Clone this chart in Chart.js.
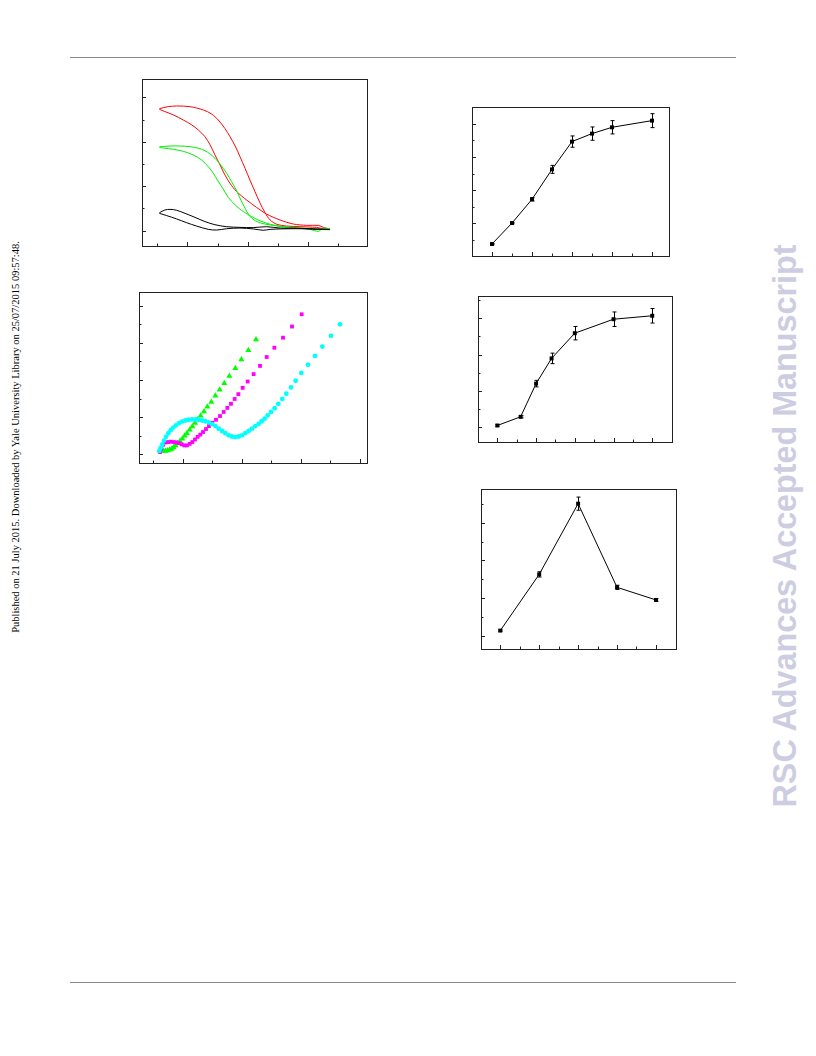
<!DOCTYPE html>
<html>
<head>
<meta charset="utf-8">
<script src="https://cdn.jsdelivr.net/npm/chart.js@4"></script>
<style>
body { margin: 0; width: 816px; height: 1056px; position: relative; background: #fff; overflow: hidden; }
.rule { position: absolute; left: 70px; width: 666px; height: 1px; background: #8a8a8a; }
canvas { position: absolute; }
.side { position: absolute; white-space: nowrap; transform: translate(-50%, -50%) rotate(-90deg); }
</style>
</head>
<body>
<div class="rule" style="top:57px"></div>
<div class="rule" style="top:982px"></div>
<div class="side" style="left:15px;top:437px;font:10.5px 'Liberation Serif';color:#000">Published on 21 July 2015. Downloaded by Yale University Library on 25/07/2015 09:57:48.</div>
<div class="side" style="left:785px;top:526px;font:bold 32.3px 'Liberation Sans';color:#cdcde2">RSC Advances Accepted Manuscript</div>
<canvas id="c1"></canvas>
<canvas id="c2"></canvas>
<canvas id="c3"></canvas>
<canvas id="c4"></canvas>
<canvas id="c5"></canvas>
<script>
// ---- panel 1: three closed loops ----
const redX = [-0.093,-0.064,-0.036,0.008,0.053,0.080,0.102,0.124,0.141,0.158,0.174,0.191,0.207,0.224,0.240,0.257,0.274,0.296,0.329,0.373,0.428,0.450,0.472,0.450,0.434,0.395,0.351,0.307,0.262,0.229,0.196,0.163,0.141,0.124,0.108,0.091,0.075,0.058,0.036,0.014,-0.014,-0.047,-0.075,-0.093];
const redY = [5.49,5.58,5.61,5.58,5.43,5.25,4.98,4.60,4.23,3.81,3.33,2.80,2.28,1.75,1.26,0.81,0.48,0.29,0.21,0.18,0.15,0.09,0.06,0.15,0.24,0.24,0.30,0.48,0.75,1.05,1.38,1.76,2.13,2.51,2.96,3.41,3.86,4.23,4.53,4.76,4.98,5.21,5.36,5.46];
const greenX = [-0.093,-0.058,-0.025,0.008,0.036,0.058,0.075,0.091,0.108,0.130,0.146,0.163,0.177,0.191,0.205,0.224,0.246,0.274,0.318,0.373,0.428,0.472,0.450,0.434,0.406,0.362,0.318,0.274,0.240,0.213,0.185,0.158,0.135,0.117,0.099,0.086,0.069,0.047,0.019,-0.014,-0.047,-0.080,-0.093];
const greenY = [3.77,3.81,3.81,3.78,3.71,3.60,3.45,3.26,3.00,2.58,2.21,1.80,1.38,1.01,0.68,0.45,0.33,0.26,0.18,0.12,0.06,0.08,0.12,-0.03,0.06,0.12,0.18,0.29,0.45,0.63,0.86,1.16,1.50,1.91,2.28,2.58,2.88,3.18,3.41,3.57,3.66,3.72,3.74];
const blackX = [-0.093,-0.075,-0.058,-0.036,-0.008,0.025,0.058,0.091,0.130,0.174,0.218,0.262,0.307,0.362,0.417,0.472,0.428,0.373,0.307,0.274,0.251,0.218,0.174,0.130,0.097,0.069,0.030,-0.003,-0.036,-0.069,-0.093];
const blackY = [0.81,0.93,0.96,0.92,0.78,0.60,0.41,0.27,0.18,0.15,0.14,0.18,0.12,0.11,0.09,0.05,0.06,0.09,0.08,0.06,0.02,0.08,0.12,0.09,0.03,0.06,0.21,0.36,0.53,0.68,0.78];
const p1XTicks = [-0.1,0,0.1,0.2,0.3,0.4,0.5];
const p1XMajor = [0,0.2,0.4];
const p1YTicks = [0,1,2,3,4,5,6];
const p1YMajor = [0,2,4,6];

// ---- panel 2: three scatter series ----
const triX = [0.610,0.644,0.678,0.712,0.746,0.780,0.814,0.847,0.881,0.915,0.955,0.994,1.034,1.073,1.119,1.164,1.209,1.254,1.305,1.362,1.418,1.486,1.554,1.627,1.706,1.791,1.893,1.994,2.113,2.243];
const triY = [0.10,0.09,0.09,0.09,0.10,0.12,0.14,0.19,0.24,0.30,0.36,0.42,0.50,0.57,0.66,0.75,0.84,0.94,1.04,1.15,1.28,1.41,1.58,1.74,1.91,2.11,2.32,2.55,2.80,3.09];
const sqX = [0.616,0.638,0.672,0.712,0.757,0.802,0.847,0.893,0.938,0.983,1.028,1.073,1.119,1.164,1.209,1.254,1.299,1.345,1.395,1.446,1.503,1.565,1.633,1.695,1.757,1.819,1.881,1.944,2.017,2.102,2.203,2.311,2.424,2.554,2.701,2.853,3.017];
const sqY = [0.06,0.15,0.26,0.32,0.33,0.34,0.33,0.32,0.30,0.27,0.24,0.24,0.28,0.33,0.40,0.47,0.53,0.60,0.68,0.76,0.85,0.93,1.03,1.14,1.25,1.36,1.49,1.62,1.79,1.96,2.16,2.38,2.62,2.87,3.14,3.44,3.77];
const dotX = [0.605,0.627,0.655,0.684,0.718,0.757,0.797,0.842,0.887,0.938,0.989,1.045,1.102,1.158,1.215,1.271,1.328,1.384,1.441,1.497,1.554,1.610,1.667,1.723,1.780,1.836,1.893,1.949,2.006,2.062,2.119,2.175,2.232,2.288,2.339,2.390,2.441,2.497,2.559,2.621,2.689,2.757,2.836,2.915,3.011,3.124,3.243,3.367,3.514,3.667];
const dotY = [0.09,0.17,0.27,0.37,0.47,0.57,0.65,0.72,0.78,0.84,0.88,0.91,0.93,0.94,0.94,0.93,0.91,0.89,0.86,0.81,0.76,0.69,0.63,0.57,0.51,0.48,0.46,0.48,0.51,0.57,0.63,0.69,0.76,0.82,0.89,0.96,1.05,1.14,1.24,1.36,1.49,1.63,1.80,1.98,2.19,2.41,2.65,2.90,3.19,3.50];
const p2XTicks = [0.5,1,1.5,2,2.5,3,3.5,4];
const p2XMajor = [1,2,3,4];
const p2YTicks = [0,0.5,1,1.5,2,2.5,3,3.5,4];
const p2YMajor = [0,1,2,3,4];

// ---- panel 3 ----
const p3X = [0,1,2,3,4,5,6,8];
const p3Y = [-0.24,1.02,2.45,4.25,5.92,6.40,6.78,7.18];
const p3Err = [0.04,0.04,0.10,0.24,0.34,0.40,0.40,0.42];
const p3XTicks = [0,1,2,3,4,5,6,7,8];
const p3XMajor = [0,2,4,6,8];
const p3YTicks = [0,1,2,3,4,5,6,7];
const p3YMajor = [1,3,5,7];

// ---- panel 4 ----
const p4X = [0,1.2,2,2.8,4,6,8];
const p4Y = [0.09,0.57,2.40,3.79,5.18,5.95,6.14];
const p4Err = [0.05,0.06,0.18,0.29,0.37,0.40,0.40];
const p4XTicks = [0,1,2,3,4,5,6,7,8];
const p4XMajor = [0,2,4,6,8];
const p4YTicks = [0,1,2,3,4,5,6,7];
const p4YMajor = [0,2,4,6];

// ---- panel 5 ----
const p5X = [0,2,4,6,8];
const p5Y = [0.27,3.26,7.02,2.57,1.90];
const p5Err = [0.04,0.14,0.35,0.11,0.07];
const p5XTicks = [0,1,2,3,4,5,6,7,8];
const p5XMajor = [0,2,4,6,8];
const p5YTicks = [0,1,2,3,4,5,6,7];
const p5YMajor = [0,2,4,6];

Chart.defaults.animation = false;

const pts = (xs, ys) => xs.map((v, i) => ({ x: v, y: ys[i] }));
const isMajor = (list, v) => list.some(m => Math.abs(m - v) < 1e-9);

// box round the plot area, short ticks pointing inward on bottom and left
const frameTicks = {
    id: 'frameTicks',
    afterDatasetsDraw(chart, args, o) {
        const { ctx, chartArea: a, scales: { x, y } } = chart;
        ctx.save();
        ctx.strokeStyle = '#222';
        ctx.lineWidth = 1;
        ctx.strokeRect(Math.round(a.left) + 0.5, Math.round(a.top) + 0.5, Math.round(a.right - a.left), Math.round(a.bottom - a.top));
        ctx.beginPath();
        o.xTicks.forEach(v => {
            const px = Math.round(x.getPixelForValue(v)) + 0.5;
            const len = isMajor(o.xMajor, v) ? 4 : 2.5;
            ctx.moveTo(px, a.bottom);
            ctx.lineTo(px, a.bottom - len);
        });
        o.yTicks.forEach(v => {
            const py = Math.round(y.getPixelForValue(v)) + 0.5;
            const len = isMajor(o.yMajor, v) ? 4 : 2.5;
            ctx.moveTo(a.left, py);
            ctx.lineTo(a.left + len, py);
        });
        ctx.stroke();
        ctx.restore();
    }
};

const errorBars = {
    id: 'errorBars',
    afterDatasetsDraw(chart, args, o) {
        if (!o.err) return;
        const { ctx, scales: { x, y } } = chart;
        const data = chart.data.datasets[0].data;
        ctx.save();
        ctx.strokeStyle = '#000';
        ctx.lineWidth = 1;
        ctx.beginPath();
        data.forEach((p, i) => {
            const px = Math.round(x.getPixelForValue(p.x)) + 0.5;
            const top = y.getPixelForValue(p.y + o.err[i]);
            const bot = y.getPixelForValue(p.y - o.err[i]);
            ctx.moveTo(px, top); ctx.lineTo(px, bot);
            ctx.moveTo(px - 2, top); ctx.lineTo(px + 2, top);
            ctx.moveTo(px - 2, bot); ctx.lineTo(px + 2, bot);
        });
        ctx.stroke();
        ctx.restore();
    }
};

function makeChart(id, frame, datasets, range, ticks, err) {
    const pad = 4;
    const canvas = document.getElementById(id);
    canvas.width = frame.w + pad * 2;
    canvas.height = frame.h + pad * 2;
    canvas.style.left = (frame.left - pad) + 'px';
    canvas.style.top = (frame.top - pad) + 'px';
    return new Chart(canvas, {
        type: 'scatter',
        data: { datasets },
        options: {
            responsive: false,
            layout: { padding: pad },
            scales: {
                x: { type: 'linear', display: false, min: range.x[0], max: range.x[1] },
                y: { type: 'linear', display: false, min: range.y[0], max: range.y[1] }
            },
            plugins: {
                legend: { display: false },
                tooltip: { enabled: false },
                frameTicks: ticks,
                errorBars: { err }
            }
        },
        plugins: [frameTicks, errorBars]
    });
}

function loop(xs, ys, color) {
    return { data: pts(xs, ys), showLine: true, borderColor: color, borderWidth: 1, pointRadius: 0, tension: 0.3 };
}

function markers(xs, ys, color, style, r) {
    return { data: pts(xs, ys), backgroundColor: color, borderColor: color, pointStyle: style, pointRadius: r, borderWidth: 0 };
}

function errLine(xs, ys) {
    return { data: pts(xs, ys), showLine: true, borderColor: '#000', borderWidth: 1, backgroundColor: '#000',
             pointStyle: 'rect', pointRadius: 2.8, pointBorderWidth: 0 };
}

makeChart('c1', { left: 142, top: 79, w: 225, h: 167 },
    [loop(blackX, blackY, '#000'), loop(greenX, greenY, '#00ee00'), loop(redX, redY, '#ff0000')],
    { x: [-0.1507, 0.595], y: [-0.688, 6.824] },
    { xTicks: p1XTicks, xMajor: p1XMajor, yTicks: p1YTicks, yMajor: p1YMajor });

makeChart('c2', { left: 139, top: 292, w: 228, h: 171 },
    [markers(dotX, dotY, '#00ffff', 'circle', 2.4), markers(sqX, sqY, '#ff00ff', 'rect', 2.7), markers(triX, triY, '#00ff00', 'triangle', 3.5)],
    { x: [0.26, 4.124], y: [-0.234, 4.37] },
    { xTicks: p2XTicks, xMajor: p2XMajor, yTicks: p2YTicks, yMajor: p2YMajor });

makeChart('c3', { left: 472, top: 107, w: 197, h: 149 },
    [errLine(p3X, p3Y)],
    { x: [-1.0, 8.85], y: [-0.961, 8.0] },
    { xTicks: p3XTicks, xMajor: p3XMajor, yTicks: p3YTicks, yMajor: p3YMajor }, p3Err);

makeChart('c4', { left: 478, top: 296, w: 194, h: 146 },
    [errLine(p4X, p4Y)],
    { x: [-1.0, 9.02], y: [-0.82, 7.23] },
    { xTicks: p4XTicks, xMajor: p4XMajor, yTicks: p4YTicks, yMajor: p4YMajor }, p4Err);

makeChart('c5', { left: 481, top: 489, w: 195, h: 160 },
    [errLine(p5X, p5Y)],
    { x: [-0.99, 9.03], y: [-0.709, 7.8] },
    { xTicks: p5XTicks, xMajor: p5XMajor, yTicks: p5YTicks, yMajor: p5YMajor }, p5Err);
</script>
</body>
</html>
